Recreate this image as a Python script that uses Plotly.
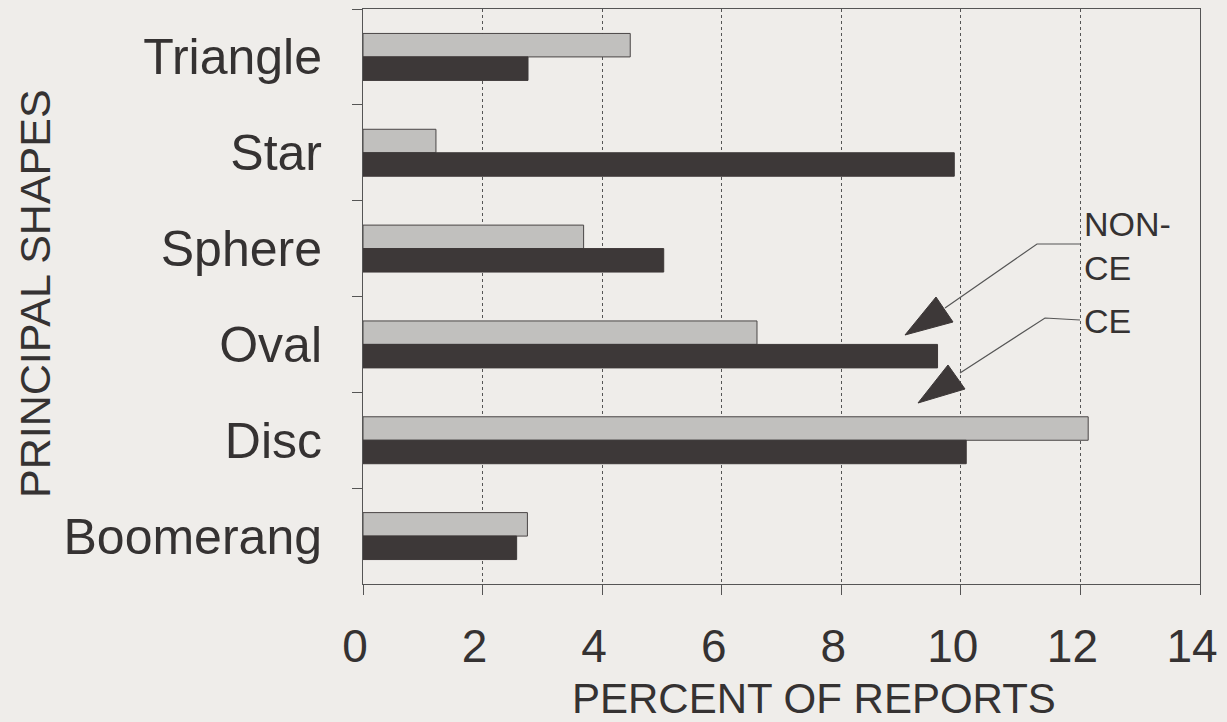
import plotly.graph_objects as go

categories = ["Triangle", "Star", "Sphere", "Oval", "Disc", "Boomerang"]
non_ce = [4.47, 1.22, 3.69, 6.59, 12.13, 2.75]
ce = [2.76, 9.89, 5.03, 9.61, 10.09, 2.57]
x_ticks = [0, 2, 4, 6, 8, 10, 12, 14]

W, H = 1227, 722
ML, MR, MT, MB = 363, 27, 9, 138
PW, PH = W - ML - MR, H - MT - MB

def px(x):
    return (x - ML) / PW

def py(y):
    return (H - MB - y) / PH

BG = "#efedea"
DARK = "#3d3838"
TXT = "#353232"
FONT = "Liberation Sans, Arial, Helvetica, sans-serif"

fig = go.Figure()
fig.add_trace(go.Bar(
    y=categories, x=non_ce, orientation="h", name="NON-CE",
    marker=dict(color="#e2e1df",
                pattern=dict(shape=".", fgcolor="#4a4747", bgcolor="#e2e1df", size=2, solidity=0.5),
                line=dict(color="#4a4646", width=1)),
))
fig.add_trace(go.Bar(
    y=categories, x=ce, orientation="h", name="CE",
    marker=dict(color=DARK, line=dict(color=DARK, width=1)),
))

fig.update_layout(
    width=W, height=H,
    margin=dict(l=ML, r=MR, t=MT, b=MB),
    paper_bgcolor=BG, plot_bgcolor=BG,
    barmode="group", bargap=0.51, bargroupgap=0,
    showlegend=False,
    font=dict(family=FONT, color=TXT),
)

fig.update_xaxes(
    range=[0, 14], tickvals=x_ticks, ticktext=[str(v) for v in x_ticks],
    showgrid=True, gridcolor="#555", griddash="dot", gridwidth=1,
    zeroline=False,
    showline=True, linecolor="#555", linewidth=1, mirror=True,
    ticks="outside", ticklen=10, tickcolor="#555",
    tickfont=dict(size=46, color=TXT, family=FONT),
    ticklabelstandoff=12, ticklabelshift=-8,
)
fig.update_yaxes(
    autorange="reversed",
    showgrid=False,
    showline=True, linecolor="#555", linewidth=1, mirror=True,
    ticks="outside", ticklen=10, tickcolor="#555", tickson="boundaries",
    tickfont=dict(size=50, color=TXT, family=FONT),
    ticklabelstandoff=30,
)

# axis titles
fig.add_annotation(text="PERCENT OF REPORTS", xref="paper", yref="paper",
                   x=px(814), y=py(698), xanchor="center", yanchor="middle",
                   showarrow=False, font=dict(size=42, color=TXT, family=FONT))
fig.add_annotation(text="PRINCIPAL SHAPES", xref="paper", yref="paper",
                   x=px(35), y=py(294), xanchor="center", yanchor="middle",
                   textangle=-90, showarrow=False,
                   font=dict(size=43, color=TXT, family=FONT))

# callout labels
fig.add_annotation(text="NON-<br>CE", xref="paper", yref="paper",
                   x=px(1082), y=py(246), xanchor="left", yanchor="middle",
                   align="left", showarrow=False,
                   font=dict(size=34, color=TXT, family=FONT))
fig.add_annotation(text="CE", xref="paper", yref="paper",
                   x=px(1082), y=py(321), xanchor="left", yanchor="middle",
                   align="left", showarrow=False,
                   font=dict(size=34, color=TXT, family=FONT))

def polyline(pts):
    d = "M" + " L".join(f"{px(x):.5f},{py(y):.5f}" for x, y in pts)
    return d

def tri(pts):
    return polyline(pts) + " Z"

for line_pts, tri_pts in [
    ([(1080, 244), (1037, 244), (945, 308)], [(905, 335), (936, 297), (953, 322)]),
    ([(1080, 320), (1045, 318), (960, 373)], [(918, 403), (948, 365), (965, 389)]),
]:
    fig.add_shape(type="path", xref="paper", yref="paper", path=polyline(line_pts),
                  line=dict(color="#555", width=1.2))
    fig.add_shape(type="path", xref="paper", yref="paper", path=tri(tri_pts),
                  fillcolor=DARK, line=dict(color=DARK, width=1))

fig.write_html("out.html", config={"displayModeBar": False},
               post_script="document.body.style.margin='0';document.body.style.background='" + BG + "';")
